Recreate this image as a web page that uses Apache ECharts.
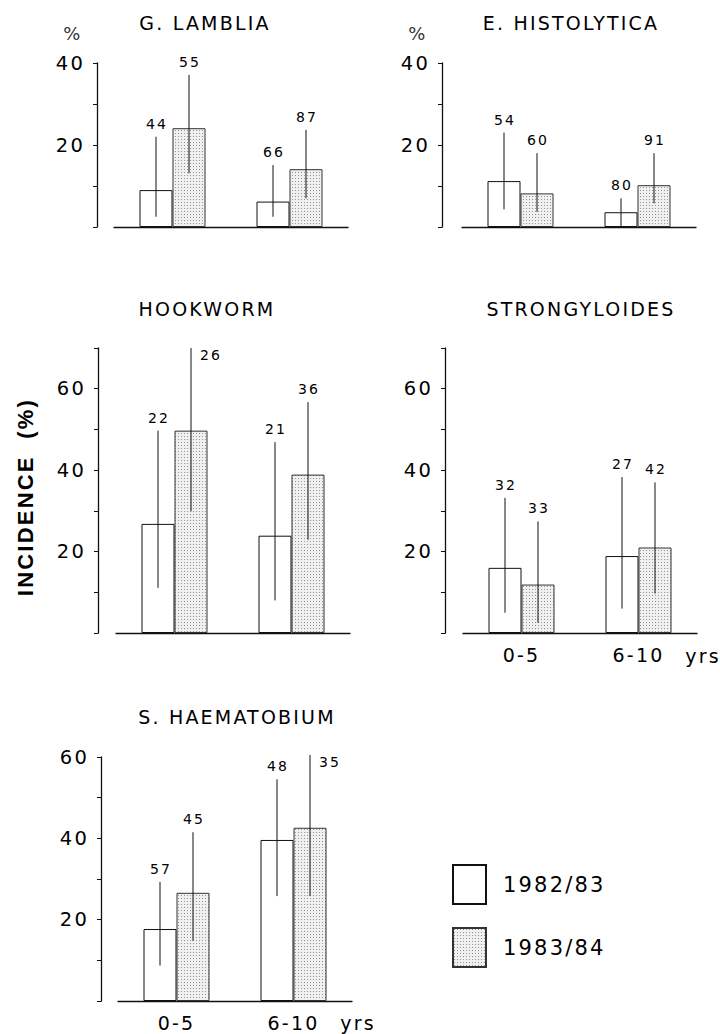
<!DOCTYPE html>
<html><head><meta charset="utf-8">
<script src="https://cdn.jsdelivr.net/npm/echarts@6/dist/echarts.min.js"></script>
<style>html,body{margin:0;padding:0;background:#fff}#c{width:720px;height:1034px;letter-spacing:2.2px}</style>
</head><body><div id="c"></div>
<script>
// ---- data ----
const categories = ['0-5', '6-10'];
const panelTitles = ['G. LAMBLIA', 'E. HISTOLYTICA', 'HOOKWORM', 'STRONGYLOIDES', 'S. HAEMATOBIUM'];
const seriesNames = ['1982/83', '1983/84'];
const axisMax = [40, 40, 70, 70, 60];
const tickLabels = [[20, 40], [20, 40], [20, 40, 60], [20, 40, 60], [20, 40, 60]];
// incidence (%) per panel, per age group
const incidence8283 = [[9.0, 6.2], [11.2, 3.6], [26.8, 23.9], [16.0, 18.9], [17.7, 39.6]];
const low8283 = [[2.5, 2.5], [4.3, 0], [11.1, 8.0], [5.0, 6.0], [8.7, 25.8]];
const high8283 = [[22.0, 15.1], [23.0, 7.0], [49.7, 46.9], [33.2, 38.3], [29.3, 54.5]];
const n8283 = [[44, 66], [54, 80], [22, 21], [32, 27], [57, 48]];
const incidence8384 = [[24.1, 14.1], [8.2, 10.2], [49.7, 38.9], [11.9, 21.0], [26.6, 42.6]];
const low8384 = [[13.1, 7.0], [3.7, 5.8], [29.9, 22.9], [2.5, 9.7], [14.8, 25.8]];
const high8384 = [[37.1, 23.7], [18.0, 18.0], [70, 56.7], [27.4, 37.0], [41.5, 60.5]];
const n8384 = [[55, 87], [60, 91], [26, 36], [33, 42], [45, 35]];

// ---- layout / style ----
const FONT = '"DejaVu Sans", Arial, sans-serif';
const BOLDFONT = '"Liberation Sans", Arial, sans-serif';
const INK = '#111';
const TXT = '#000';
const grids = [
  {left: 114, top: 63, width: 234, height: 164},
  {left: 462, top: 63, width: 234, height: 164},
  {left: 116, top: 348, width: 234, height: 285},
  {left: 463, top: 348, width: 234, height: 285},
  {left: 118, top: 757, width: 234, height: 244}
];
const yOffsets = [17, 20, 18, 18, 17];
const showX = [false, false, false, true, true];
const titlePos = [[205, 23], [571, 23], [207, 309], [581, 309], [237, 717]];

const pc = document.createElement('canvas');
pc.width = 3; pc.height = 3;
const g = pc.getContext('2d');
g.fillStyle = '#f0f0f0'; g.fillRect(0, 0, 3, 3);
g.fillStyle = '#959595'; g.fillRect(1, 1, 1, 1);
const dotted = {image: pc, repeat: 'repeat', imageWidth: 3, imageHeight: 3};

const vals = [incidence8283, incidence8384];
const lows = [low8283, low8384];
const highs = [high8283, high8384];
const ns = [n8283, n8384];

const xAxis = [], yAxis = [], series = [];
grids.forEach((gr, i) => {
  xAxis.push({
    type: 'category', gridIndex: i, data: categories,
    axisLine: {lineStyle: {color: INK, width: 1.3}},
    axisTick: {show: false},
    axisLabel: {show: showX[i], margin: 12, fontSize: 19, color: TXT, fontFamily: FONT}
  });
  yAxis.push({
    type: 'value', gridIndex: i, min: 0, max: axisMax[i], interval: 10, offset: yOffsets[i],
    axisLine: {show: true, lineStyle: {color: INK, width: 1.3}},
    axisTick: {show: true, length: 4, lineStyle: {color: INK, width: 1}},
    splitLine: {show: false},
    axisLabel: {margin: 12, fontSize: 19.5, color: TXT, fontFamily: FONT,
      formatter: v => tickLabels[i].includes(v) ? String(v) : ''}
  });
  [0, 1].forEach(k => {
    series.push({
      type: 'bar', name: seriesNames[k], xAxisIndex: i, yAxisIndex: i,
      data: vals[k][i], barWidth: 33, barGap: '0%', silent: true,
      itemStyle: {color: k ? dotted : '#ffffff', borderColor: k ? '#333' : INK, borderWidth: 1}
    });
  });
  [0, 1].forEach(k => {
    series.push({
      type: 'custom', xAxisIndex: i, yAxisIndex: i, silent: true, z: 5,
      data: categories.map((c, j) => [j, lows[k][i][j], highs[k][i][j], ns[k][i][j]]),
      encode: {x: 0, y: [1, 2]},
      renderItem: (params, api) => {
        const cat = api.value(0);
        const lo = api.coord([cat, api.value(1)]);
        const hi = api.coord([cat, api.value(2)]);
        const x = lo[0] + (k === 0 ? -16.5 : 16.5);
        const atTop = api.value(2) >= axisMax[i] - 1;
        return {
          type: 'group',
          children: [
            {type: 'line', shape: {x1: x, y1: lo[1], x2: x, y2: hi[1]},
             style: {stroke: INK, lineWidth: 1}},
            {type: 'text', x: atTop ? x + 9 : x + 1, y: atTop ? hi[1] + 7 : hi[1] - 6,
             style: {text: String(api.value(3)), font: '14px ' + FONT, fill: TXT,
               align: atTop ? 'left' : 'center', verticalAlign: atTop ? 'middle' : 'bottom'}}
          ]
        };
      }
    });
  });
});

const graphic = [];
panelTitles.forEach((t, i) => {
  graphic.push({type: 'text', x: titlePos[i][0], y: titlePos[i][1],
    style: {text: t, font: '19px ' + FONT, fill: TXT, align: 'center', verticalAlign: 'middle'}});
});
graphic.push({type: 'text', x: 73, y: 33, style: {text: '%', font: '18px ' + FONT, fill: '#333', align: 'center', verticalAlign: 'middle'}});
graphic.push({type: 'text', x: 418, y: 33, style: {text: '%', font: '18px ' + FONT, fill: '#333', align: 'center', verticalAlign: 'middle'}});
graphic.push({type: 'text', x: 25, y: 497, rotation: Math.PI / 2,
  style: {text: 'INCIDENCE  (%)', font: 'bold 22px ' + BOLDFONT, fill: TXT, align: 'center', verticalAlign: 'middle'}});
graphic.push({type: 'text', x: 703, y: 656, style: {text: 'yrs', font: '19px ' + FONT, fill: TXT, align: 'center', verticalAlign: 'middle'}});
graphic.push({type: 'text', x: 358, y: 1023, style: {text: 'yrs', font: '19px ' + FONT, fill: TXT, align: 'center', verticalAlign: 'middle'}});

const chart = echarts.init(document.getElementById('c'), null, {renderer: 'svg'});
chart.setOption({
  animation: false,
  backgroundColor: '#fff',
  grid: grids,
  xAxis, yAxis, series, graphic,
  legend: {
    data: seriesNames, orient: 'vertical', left: 447, top: 859,
    itemWidth: 33, itemHeight: 39, itemGap: 22, icon: 'rect', selectedMode: false,
    textStyle: {fontSize: 21, color: TXT, fontFamily: FONT, padding: [0, 0, 0, 12]}
  }
});
</script></body></html>
